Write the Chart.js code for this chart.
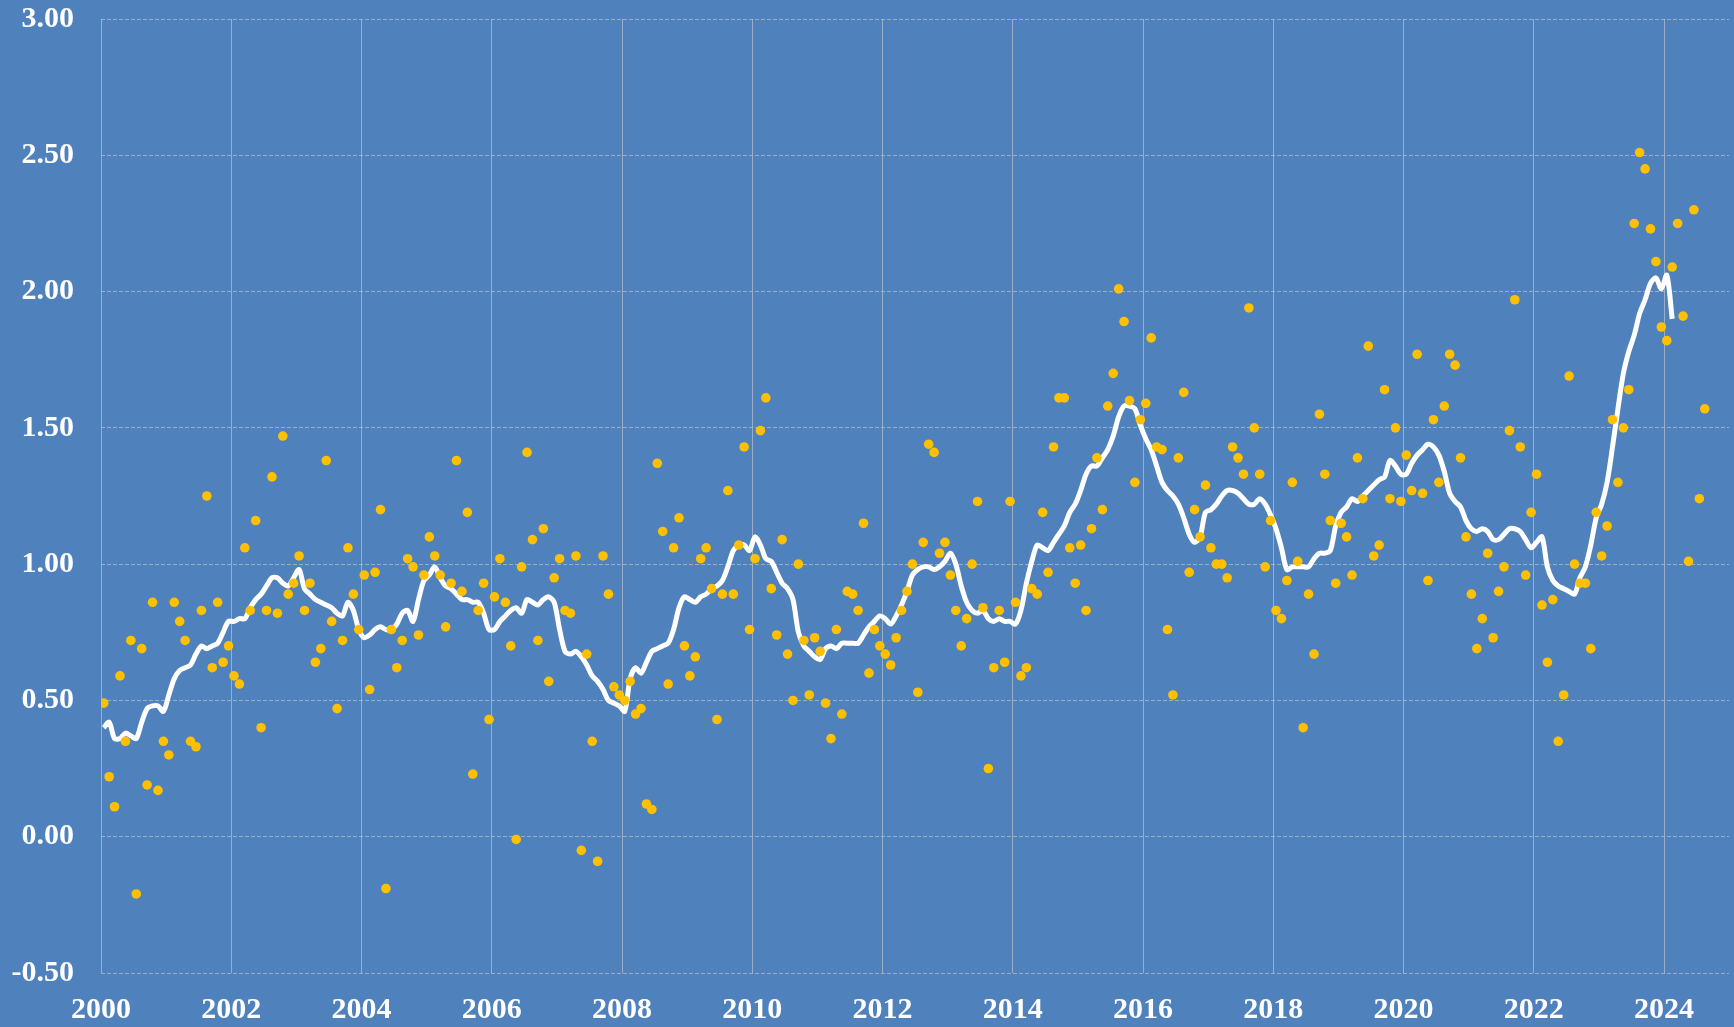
<!DOCTYPE html>
<html>
<head>
<meta charset="utf-8">
<title>Monthly values and moving average</title>
<script src="https://cdn.jsdelivr.net/npm/chart.js@4.4.1/dist/chart.umd.min.js"></script>
<style>
    html, body { margin: 0; padding: 0; background: #4F81BD; }
    #wrap { width: 1734px; height: 1027px; position: relative; }
</style>
</head>
<body>
<div id="wrap"><canvas id="chart"></canvas></div>
<script>
// --- Data ---
const startYear = 2000; // first month is January 2000

// Monthly values, one row per year
const monthlyValues = [
    0.49, 0.22, 0.11, 0.59, 0.35, 0.72, -0.21, 0.69, 0.19, 0.86, 0.17, 0.35,
    0.30, 0.86, 0.79, 0.72, 0.35, 0.33, 0.83, 1.25, 0.62, 0.86, 0.64, 0.70,
    0.59, 0.56, 1.06, 0.83, 1.16, 0.40, 0.83, 1.32, 0.82, 1.47, 0.89, 0.93,
    1.03, 0.83, 0.93, 0.64, 0.69, 1.38, 0.79, 0.47, 0.72, 1.06, 0.89, 0.76,
    0.96, 0.54, 0.97, 1.20, -0.19, 0.76, 0.62, 0.72, 1.02, 0.99, 0.74, 0.96,
    1.10, 1.03, 0.96, 0.77, 0.93, 1.38, 0.90, 1.19, 0.23, 0.83, 0.93, 0.43,
    0.88, 1.02, 0.86, 0.70, -0.01, 0.99, 1.41, 1.09, 0.72, 1.13, 0.57, 0.95,
    1.02, 0.83, 0.82, 1.03, -0.05, 0.67, 0.35, -0.09, 1.03, 0.89, 0.55, 0.52,
    0.50, 0.57, 0.45, 0.47, 0.12, 0.10, 1.37, 1.12, 0.56, 1.06, 1.17, 0.70,
    0.59, 0.66, 1.02, 1.06, 0.91, 0.43, 0.89, 1.27, 0.89, 1.07, 1.43, 0.76,
    1.02, 1.49, 1.61, 0.91, 0.74, 1.09, 0.67, 0.50, 1.00, 0.72, 0.52, 0.73,
    0.68, 0.49, 0.36, 0.76, 0.45, 0.90, 0.89, 0.83, 1.15, 0.60, 0.76, 0.70,
    0.67, 0.63, 0.73, 0.83, 0.90, 1.00, 0.53, 1.08, 1.44, 1.41, 1.04, 1.08,
    0.96, 0.83, 0.70, 0.80, 1.00, 1.23, 0.84, 0.25, 0.62, 0.83, 0.64, 1.23,
    0.86, 0.59, 0.62, 0.91, 0.89, 1.19, 0.97, 1.43, 1.61, 1.61, 1.06, 0.93,
    1.07, 0.83, 1.13, 1.39, 1.20, 1.58, 1.70, 2.01, 1.89, 1.60, 1.30, 1.53,
    1.59, 1.83, 1.43, 1.42, 0.76, 0.52, 1.39, 1.63, 0.97, 1.20, 1.10, 1.29,
    1.06, 1.00, 1.00, 0.95, 1.43, 1.39, 1.33, 1.94, 1.50, 1.33, 0.99, 1.16,
    0.83, 0.80, 0.94, 1.30, 1.01, 0.40, 0.89, 0.67, 1.55, 1.33, 1.16, 0.93,
    1.15, 1.10, 0.96, 1.39, 1.24, 1.80, 1.03, 1.07, 1.64, 1.24, 1.50, 1.23,
    1.40, 1.27, 1.77, 1.26, 0.94, 1.53, 1.30, 1.58, 1.77, 1.73, 1.39, 1.10,
    0.89, 0.69, 0.80, 1.04, 0.73, 0.90, 0.99, 1.49, 1.97, 1.43, 0.96, 1.19,
    1.33, 0.85, 0.64, 0.87, 0.35, 0.52, 1.69, 1.00, 0.93, 0.93, 0.69, 1.19,
    1.03, 1.14, 1.53, 1.30, 1.50, 1.64, 2.25, 2.51, 2.45, 2.23, 2.11, 1.87,
    1.82, 2.09, 2.25, 1.91, 1.01, 2.30, 1.24, 1.57
];

// Smoothed (moving average) line, same monthly start, ends a few months earlier
const movingAverage = [
    0.40, 0.42, 0.36, 0.36, 0.38, 0.37, 0.36, 0.42, 0.47, 0.48, 0.48, 0.46,
    0.52, 0.58, 0.61, 0.62, 0.63, 0.67, 0.70, 0.69, 0.70, 0.71, 0.75, 0.79,
    0.79, 0.80, 0.80, 0.84, 0.87, 0.89, 0.92, 0.95, 0.95, 0.93, 0.92, 0.95,
    0.98, 0.91, 0.89, 0.87, 0.86, 0.85, 0.84, 0.82, 0.81, 0.86, 0.83, 0.76,
    0.73, 0.74, 0.76, 0.77, 0.76, 0.76, 0.78, 0.82, 0.83, 0.79, 0.87, 0.94,
    0.96, 0.99, 0.95, 0.92, 0.91, 0.89, 0.87, 0.87, 0.86, 0.86, 0.82, 0.76,
    0.76, 0.79, 0.81, 0.83, 0.84, 0.82, 0.87, 0.86, 0.85, 0.87, 0.88, 0.86,
    0.76, 0.68, 0.67, 0.68, 0.66, 0.63, 0.59, 0.57, 0.54, 0.50, 0.49, 0.48,
    0.46, 0.58, 0.62, 0.60, 0.64, 0.68, 0.69, 0.70, 0.71, 0.76, 0.84, 0.88,
    0.87, 0.86, 0.88, 0.89, 0.91, 0.92, 0.94, 0.99, 1.05, 1.07, 1.07, 1.05,
    1.10, 1.07, 1.02, 1.01, 0.97, 0.93, 0.91, 0.87, 0.75, 0.70, 0.68, 0.66,
    0.65, 0.69, 0.70, 0.69, 0.71, 0.71, 0.71, 0.71, 0.74, 0.77, 0.79, 0.81,
    0.80, 0.78, 0.81, 0.85, 0.90, 0.96, 0.98, 0.99, 0.99, 0.98, 0.99, 1.01,
    1.04, 1.00, 0.92, 0.86, 0.83, 0.82, 0.83, 0.80, 0.79, 0.80, 0.79, 0.79,
    0.78, 0.83, 0.93, 1.01, 1.07, 1.06, 1.05, 1.08, 1.11, 1.14, 1.19, 1.22,
    1.27, 1.33, 1.36, 1.36, 1.39, 1.42, 1.47, 1.54, 1.58, 1.58, 1.57, 1.51,
    1.46, 1.42, 1.36, 1.30, 1.27, 1.25, 1.22, 1.17, 1.11, 1.08, 1.10, 1.19,
    1.20, 1.22, 1.25, 1.27, 1.27, 1.26, 1.24, 1.22, 1.22, 1.24, 1.22, 1.18,
    1.13, 1.06, 0.98, 0.99, 0.99, 0.99, 0.99, 1.02, 1.04, 1.04, 1.05, 1.14,
    1.19, 1.21, 1.24, 1.23, 1.25, 1.27, 1.29, 1.31, 1.32, 1.38, 1.36, 1.33,
    1.33, 1.37, 1.40, 1.42, 1.44, 1.43, 1.40, 1.34, 1.26, 1.23, 1.21, 1.16,
    1.13, 1.12, 1.13, 1.12, 1.09, 1.09, 1.11, 1.13, 1.13, 1.12, 1.09, 1.06,
    1.08, 1.10, 0.99, 0.94, 0.92, 0.91, 0.90, 0.89, 0.95, 0.99, 1.07, 1.17,
    1.22, 1.30, 1.43, 1.57, 1.70, 1.78, 1.84, 1.92, 1.97, 2.03, 2.05, 2.01,
    2.06, 1.90
];

// Axis ticks
const xTickYears = [2000, 2002, 2004, 2006, 2008, 2010, 2012, 2014, 2016, 2018, 2020, 2022, 2024];
const yTickValues = [-0.5, 0, 0.5, 1.0, 1.5, 2.0, 2.5, 3.0];

// Each month is placed in the middle of its month on a year axis
const monthToX = (i) => startYear + (i + 0.5) / 12;
const scatterPoints = monthlyValues.map((v, i) => ({ x: monthToX(i), y: v }));
const averagePoints = movingAverage.map((v, i) => ({ x: monthToX(i), y: v }));

const labelFont = { family: "'Liberation Serif', 'Times New Roman', serif", size: 30, weight: 'bold' };
const gridColor = 'rgba(205, 205, 205, 0.6)';

const ctx = document.getElementById('chart');

new Chart(ctx, {
    type: 'scatter',
    data: {
        datasets: [{
            label: 'Monthly',
            data: scatterPoints,
            backgroundColor: '#FFC000',
            borderWidth: 0,
            pointRadius: 4.8,
            order: 0
        }, {
            type: 'line',
            label: 'Moving average',
            data: averagePoints,
            borderColor: '#FFFFFF',
            borderWidth: 5,
            pointRadius: 0,
            tension: 0.3,
            fill: false,
            order: 1
        }]
    },
    options: {
        responsive: true,
        maintainAspectRatio: false,
        animation: false,
        layout: {
            padding: { top: 19, right: 3, left: 0, bottom: 0 }
        },
        plugins: {
            legend: { display: false },
            tooltip: { enabled: false }
        },
        scales: {
            x: {
                type: 'linear',
                min: 2000,
                max: 2025,
                afterBuildTicks: (scale) => {
                    scale.ticks = xTickYears.map(v => ({ value: v }));
                },
                afterFit: (scale) => {
                    scale.height = 54;
                    scale.paddingTop = 0;
                    scale.paddingBottom = 0;
                },
                ticks: {
                    color: '#FFFFFF',
                    font: labelFont,
                    padding: 19,
                    maxRotation: 0,
                    autoSkip: false,
                    callback: (v) => String(v)
                },
                grid: { color: gridColor, lineWidth: 1, drawTicks: false },
                border: { display: false }
            },
            y: {
                min: -0.5,
                max: 3.0,
                afterBuildTicks: (scale) => {
                    scale.ticks = yTickValues.map(v => ({ value: v }));
                },
                afterFit: (scale) => {
                    // keep the plot top/bottom where the reference has them
                    scale.width = 101;
                    scale.paddingTop = 0;
                    scale.paddingBottom = 0;
                },
                ticks: {
                    color: '#FFFFFF',
                    font: labelFont,
                    padding: 27,
                    callback: (v) => Number(v).toFixed(2)
                },
                grid: { color: gridColor, lineWidth: 1, drawTicks: false },
                border: { display: false, dash: [4, 2] }
            }
        }
    }
});
</script>
</body>
</html>
